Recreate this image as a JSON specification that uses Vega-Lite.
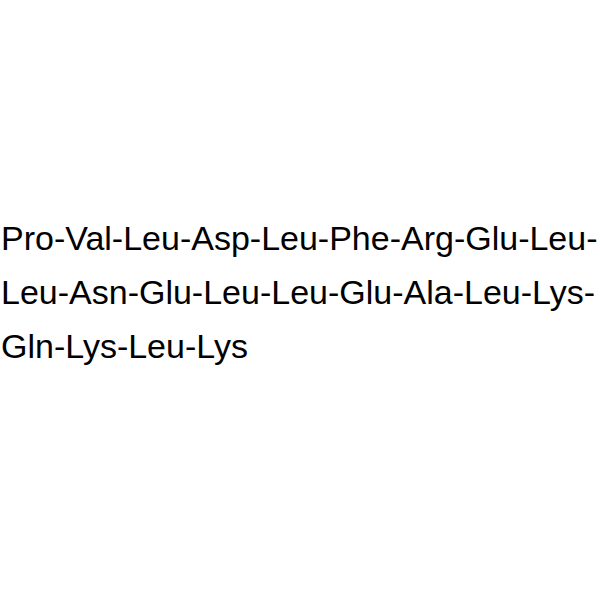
{
  "$schema": "https://vega.github.io/schema/vega-lite/v6.json",
  "autosize": {"type": "fit", "contains": "padding"},
  "width": 600,
  "height": 600,
  "padding": 0,
  "background": "white",
  "config": {"view": {"stroke": null}},
  "data": {
    "values": [
      {"line": 1, "text": "Pro-Val-Leu-Asp-Leu-Phe-Arg-Glu-Leu-"},
      {"line": 2, "text": "Leu-Asn-Glu-Leu-Leu-Glu-Ala-Leu-Lys-"},
      {"line": 3, "text": "Gln-Lys-Leu-Lys"}
    ]
  },
  "mark": {
    "type": "text",
    "align": "left",
    "baseline": "alphabetic",
    "font": "Liberation Sans",
    "fontSize": 34,
    "color": "black"
  },
  "encoding": {
    "x": {"datum": 0, "type": "quantitative", "scale": {"domain": [-1, 599]}, "axis": null},
    "y": {"field": "line", "type": "quantitative", "scale": {"domain": [-3.6296, 7.4815], "reverse": true, "nice": false, "zero": false}, "axis": null},
    "text": {"field": "text"}
  }
}
